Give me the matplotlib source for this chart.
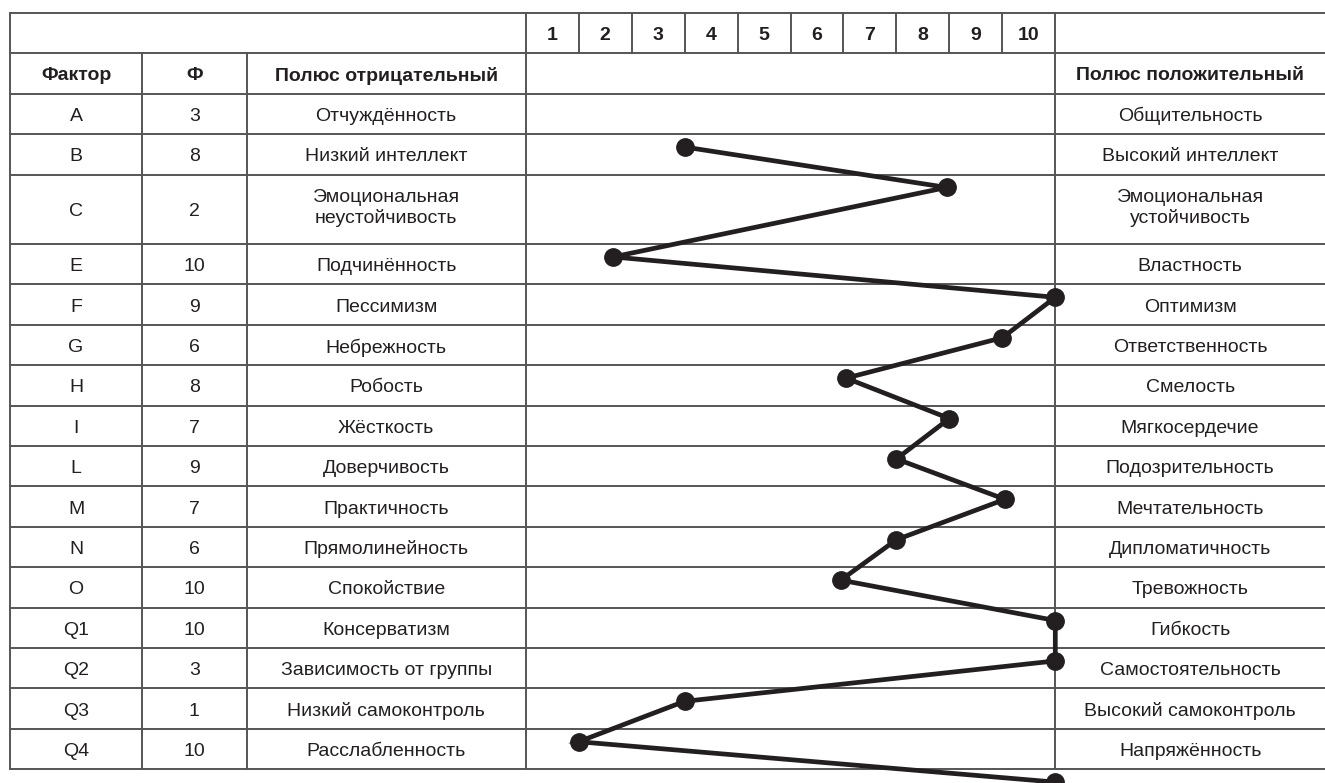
import numpy as np
import matplotlib.pyplot as plt

# Table content
factors = ['A', 'B', 'C', 'E', 'F', 'G', 'H', 'I', 'L', 'M', 'N', 'O', 'Q1', 'Q2', 'Q3', 'Q4']
f_values = [3, 8, 2, 10, 9, 6, 8, 7, 9, 7, 6, 10, 10, 3, 1, 10]
neg_poles = ['Отчуждённость', 'Низкий интеллект', 'Эмоциональная\nнеустойчивость',
             'Подчинённость', 'Пессимизм', 'Небрежность', 'Робость', 'Жёсткость',
             'Доверчивость', 'Практичность', 'Прямолинейность', 'Спокойствие',
             'Консерватизм', 'Зависимость от группы', 'Низкий самоконтроль', 'Расслабленность']
pos_poles = ['Общительность', 'Высокий интеллект', 'Эмоциональная\nустойчивость',
             'Властность', 'Оптимизм', 'Ответственность', 'Смелость', 'Мягкосердечие',
             'Подозрительность', 'Мечтательность', 'Дипломатичность', 'Тревожность',
             'Гибкость', 'Самостоятельность', 'Высокий самоконтроль', 'Напряжённость']
# profile points as drawn in the picture (one row lower than their factor)
profile = [3, 7.95, 1.65, 10, 9, 6.05, 8, 7, 9.05, 7, 5.95, 10, 10, 3, 1, 10]
scale_labels = [str(i) for i in range(1, 11)]
headers = ['Фактор', 'Ф', 'Полюс отрицательный', 'Полюс положительный']

ink = '#231f20'
grid_col = '#555555'
font = ['Liberation Sans', 'DejaVu Sans']

# column edges in scale units (grid 0..10)
col_edges = [-9.74, -7.24, -5.27, 0, 10, 15.3]
row_h = [1 + 0.72 * s.count('\n') for s in neg_poles]
row_bottoms = np.cumsum(row_h)
row_tops = row_bottoms - np.array(row_h)
bottom = row_bottoms[-1]

fig = plt.figure(figsize=(13.25, 7.83), dpi=100)
ax = fig.add_axes([0, 0, 1, 1])
ax.set_xlim(-525.7 / 52.96, (1325 - 525.7) / 52.96)
ax.set_ylim((783 - 93.7) / 40.4, -93.7 / 40.4)
ax.axis('off')

lw = 1.4
x0, x1 = col_edges[0], col_edges[-1]
# horizontal lines
for y in [-2, -1, 0] + list(row_bottoms):
    ax.plot([x0, x1], [y, y], color=grid_col, lw=lw, solid_capstyle='butt', zorder=1)
# vertical lines
for x in [col_edges[0], col_edges[3], col_edges[4]]:
    ax.plot([x, x], [-2, bottom], color=grid_col, lw=lw, zorder=1)
for x in [col_edges[1], col_edges[2]]:
    ax.plot([x, x], [-1, bottom], color=grid_col, lw=lw, zorder=1)
for x in range(1, 10):
    ax.plot([x, x], [-2, -1], color=grid_col, lw=lw, zorder=1)

# header texts
for i, lab in enumerate(scale_labels):
    ax.text(i + 0.5, -1.5 + 0.05, lab, ha='center', va='center', fontsize=14,
            fontweight='bold', color=ink, family=font)
centers = [(col_edges[0] + col_edges[1]) / 2, (col_edges[1] + col_edges[2]) / 2,
           (col_edges[2] + col_edges[3]) / 2, (col_edges[4] + 15.09) / 2]
for cx, lab in zip(centers, headers):
    ax.text(cx, -0.5 + 0.05, lab, ha='center', va='center', fontsize=14,
            fontweight='bold', color=ink, family=font)

# body rows
for i in range(len(factors)):
    cy = (row_tops[i] + row_bottoms[i]) / 2 + 0.06
    row = [factors[i], str(f_values[i]), neg_poles[i], pos_poles[i]]
    for j, (cx, lab) in enumerate(zip(centers, row)):
        dy = -0.1 if '\n' in lab else 0
        ax.text(cx, cy + dy, lab, ha='center', va='center', fontsize=14, color=ink,
                family=font, linespacing=1.2)

# profile line
py = list(row_bottoms + 0.32)
ax.plot(profile, py, color=ink, lw=3.4, marker='o', markersize=12.5,
        solid_joinstyle='miter', clip_on=False, zorder=3)

fig.savefig('out.png', dpi=100)
